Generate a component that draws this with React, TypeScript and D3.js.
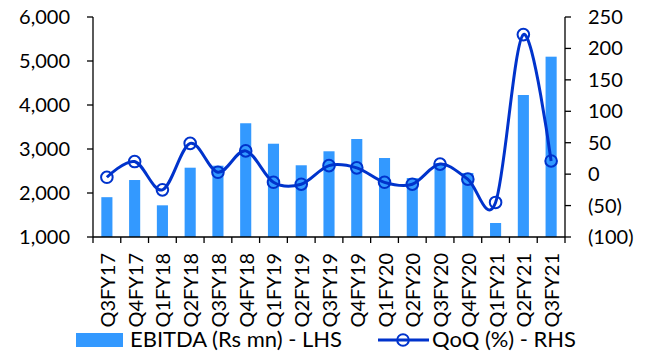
import React from "react";
import * as d3 from "d3";

const categories = ["Q3FY17","Q4FY17","Q1FY18","Q2FY18","Q3FY18","Q4FY18","Q1FY19","Q2FY19","Q3FY19","Q4FY19","Q1FY20","Q2FY20","Q3FY20","Q4FY20","Q1FY21","Q2FY21","Q3FY21"];
const ebitda = [1905, 2295, 1720, 2575, 2620, 3585, 3120, 2630, 2948, 3227, 2795, 2340, 2680, 2455, 1318, 4227, 5098];
const qoq = [-5, 20, -25, 49, 3, 37, -13, -16, 13.5, 10, -13, -16, 16, -8, -45, 222, 21];
const leftTicks = [1000, 2000, 3000, 4000, 5000, 6000];
const rightTicks = [-100, -50, 0, 50, 100, 150, 200, 250];
const legendLabels = ["EBITDA (Rs mn) - LHS", "QoQ (%) - RHS"];

const W = 654, H = 356;
const left = 93, right = 565, top = 17, bottom = 237;
const barColor = "#3399FF";
const lineColor = "#0033CC";
const font = "Lato, 'Open Sans', sans-serif";
const fs = 20;

export default function App() {
  const x = d3.scaleBand().domain(categories).range([left, right]).padding(0);
  const yL = d3.scaleLinear().domain([1000, 6000]).range([bottom, top]);
  const yR = d3.scaleLinear().domain([-100, 250]).range([bottom, top]);
  const bw = x.bandwidth() * 0.4;
  const cx = (c: string) => (x(c) as number) + x.bandwidth() / 2;
  const line = d3.line<number>()
    .x((_, i) => cx(categories[i]))
    .y((d) => yR(d))
    .curve(d3.curveCatmullRom.alpha(0));
  const fmt = (v: number) => (v < 0 ? `(${Math.abs(v)})` : `${v}`);
  const boundaries = d3.range(categories.length + 1).map((i) => left + i * x.bandwidth());

  return (
    <svg width={W} height={H} style={{ position: "absolute", left: 0, top: 0, background: "#fff" }} fontFamily={font}>
      {categories.map((c, i) => (
        <rect key={c} x={cx(c) - bw / 2} y={yL(ebitda[i])} width={bw} height={yL(1000) - yL(ebitda[i])} fill={barColor} />
      ))}
      <path d={line(qoq) || ""} fill="none" stroke={lineColor} strokeWidth={3} />
      {categories.map((c, i) => (
        <circle key={c} cx={cx(c)} cy={yR(qoq[i])} r={5.8} fill="none" stroke={lineColor} strokeWidth={2} />
      ))}
      {/* left axis */}
      <line x1={left} x2={left} y1={top} y2={bottom} stroke="#000" strokeWidth={1.3} />
      {leftTicks.map((t) => (
        <g key={t}>
          <line x1={left - 6} x2={left} y1={yL(t)} y2={yL(t)} stroke="#000" strokeWidth={1.3} />
          <text x={70} y={yL(t)} dy="0.35em" textAnchor="end" fontSize={fs} fill="#000">{d3.format(",")(t)}</text>
        </g>
      ))}
      {/* right axis */}
      <line x1={right} x2={right} y1={top} y2={bottom} stroke="#000" strokeWidth={1.3} />
      {rightTicks.map((t) => (
        <g key={t}>
          <line x1={right} x2={right + 6} y1={yR(t)} y2={yR(t)} stroke="#000" strokeWidth={1.3} />
          <text x={588} y={yR(t)} dy="0.35em" textAnchor="start" fontSize={fs} fill="#000">{fmt(t)}</text>
        </g>
      ))}
      {/* x axis */}
      <line x1={left} x2={right} y1={bottom} y2={bottom} stroke="#000" strokeWidth={1.3} />
      {boundaries.map((b, i) => (
        <line key={i} x1={b} x2={b} y1={bottom} y2={bottom + 6} stroke="#000" strokeWidth={1.3} />
      ))}
      {categories.map((c) => (
        <text key={c} transform={`translate(${cx(c) + 1},${253}) rotate(-90)`} dy="0.35em" textAnchor="end" fontSize={fs} fill="#000">{c}</text>
      ))}
      {/* legend */}
      <rect x={76} y={333} width={47} height={14} fill={barColor} />
      <text x={130} y={340} dy="0.35em" fontSize={21} fill="#000" textLength={212} lengthAdjust="spacingAndGlyphs">{legendLabels[0]}</text>
      <line x1={378} x2={429} y1={340} y2={340} stroke={lineColor} strokeWidth={3} />
      <circle cx={403} cy={340} r={5.8} fill="none" stroke={lineColor} strokeWidth={2} />
      <text x={432} y={340} dy="0.35em" fontSize={21} fill="#000" textLength={144} lengthAdjust="spacingAndGlyphs">{legendLabels[1]}</text>
    </svg>
  );
}
